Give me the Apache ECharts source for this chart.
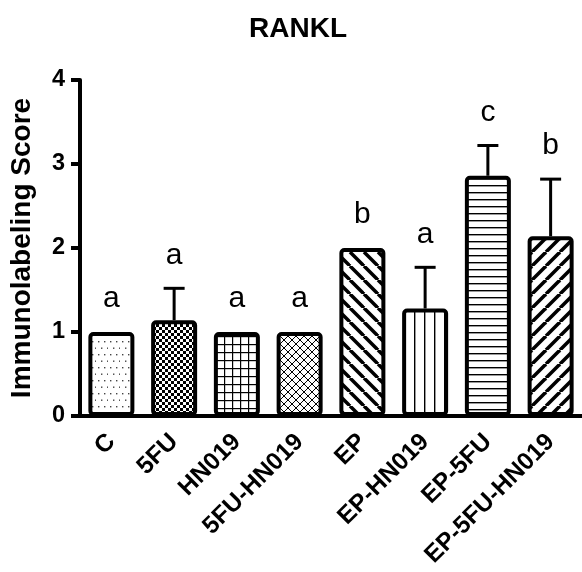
<!DOCTYPE html>
<html><head><meta charset="utf-8">
<script src="https://cdn.jsdelivr.net/npm/echarts@6/dist/echarts.min.js"></script>
<style>html,body{margin:0;padding:0;background:#fff}#c{width:582px;height:572px}</style>
</head><body><div id="c"></div>
<script>
const categories = ['C', '5FU', 'HN019', '5FU-HN019', 'EP', 'EP-HN019', 'EP-5FU', 'EP-5FU-HN019'];
const means = [1, 1.14, 1, 1, 2, 1.28, 2.86, 2.14];
const errors = [0, 0.38, 0, 0, 0, 0.49, 0.36, 0.68];
const letters = ['a', 'a', 'a', 'a', 'b', 'a', 'c', 'b'];
const patternTypes = ['dots', 'checker', 'grid', 'brick', 'back', 'vert', 'horiz', 'fwd'];

function makePattern(type) {
  const c = document.createElement('canvas');
  let w = 8, h = 8;
  if (type === 'dots') { w = 12; h = 13; }
  if (type === 'checker') { w = 6; h = 6; }
  if (type === 'grid') { w = 8; h = 8; }
  if (type === 'brick') { w = 8; h = 8; }
  if (type === 'back' || type === 'fwd') { w = 14; h = 14; }
  if (type === 'vert') { w = 10; h = 10; }
  if (type === 'horiz') { w = 10; h = 7; }
  c.width = w; c.height = h;
  const g = c.getContext('2d');
  g.fillStyle = '#fff'; g.fillRect(0, 0, w, h);
  g.fillStyle = '#000'; g.strokeStyle = '#000';
  if (type === 'dots') {
    g.fillStyle = '#444';
    [[2, 3], [8, 3], [5, 9.5], [11, 9.5]].forEach(p => { g.fillRect(p[0], p[1], 1.4, 1.4); });
  } else if (type === 'checker') {
    g.fillRect(0, 0, 3, 3); g.fillRect(3, 3, 3, 3);
  } else if (type === 'grid') {
    g.fillRect(0, 0, w, 1.2); g.fillRect(0, 0, 1.2, h);
  } else if (type === 'brick') {
    g.lineWidth = 1;
    for (let k = -1; k <= 1; k++) {
      g.beginPath(); g.moveTo(k * w, h); g.lineTo(k * w + w, 0); g.stroke();
    }
    g.beginPath(); g.moveTo(0, 0); g.lineTo(w / 2, h / 2); g.stroke();
    g.beginPath(); g.moveTo(w / 2, h / 2 + 0); g.lineTo(w, h); g.stroke();
  } else if (type === 'back') {
    g.lineWidth = 3.5;
    for (let k = -1; k <= 1; k++) {
      g.beginPath(); g.moveTo(k * w, 0); g.lineTo(k * w + w, h); g.stroke();
    }
  } else if (type === 'fwd') {
    g.lineWidth = 3.5;
    for (let k = -1; k <= 1; k++) {
      g.beginPath(); g.moveTo(k * w, h); g.lineTo(k * w + w, 0); g.stroke();
    }
  } else if (type === 'vert') {
    g.fillRect(4, 0, 1.4, h);
  } else if (type === 'horiz') {
    g.fillRect(0, 3, w, 1.4);
  }
  return { image: c, repeat: 'repeat' };
}

const barData = means.map((v, i) => ({
  value: v,
  itemStyle: { color: makePattern(patternTypes[i]) }
}));
const errData = means.map((v, i) => [i, v, v + errors[i]]);

const chart = echarts.init(document.getElementById('c'));
const FONT = 'Liberation Sans, Arial, sans-serif';
chart.setOption({
  animation: false,
  title: {
    text: 'RANKL', left: 293, top: 10, textAlign: 'center',
    textStyle: { fontFamily: FONT, fontWeight: 'bold', fontSize: 28, color: '#000' }
  },
  grid: { left: 77, right: 0, top: 80, bottom: 156, containLabel: false },
  xAxis: {
    type: 'category', data: categories,
    axisLine: { lineStyle: { color: '#000', width: 4 } },
    axisTick: { alignWithLabel: true, length: 9, lineStyle: { color: '#000', width: 4 } },
    axisLabel: { rotate: 45, margin: 22, interval: 0, fontFamily: FONT, fontWeight: 'bold', fontSize: 24.5, color: '#000' }
  },
  yAxis: {
    type: 'value', min: 0, max: 4, interval: 1,
    name: 'Immunolabeling Score', nameLocation: 'middle', nameGap: 44,
    nameTextStyle: { fontFamily: FONT, fontWeight: 'bold', fontSize: 28, color: '#000' },
    splitLine: { show: false },
    axisLine: { show: true, lineStyle: { color: '#000', width: 4 } },
    axisTick: { show: true, length: 9, lineStyle: { color: '#000', width: 4 } },
    axisLabel: { margin: 15, fontFamily: FONT, fontWeight: 'bold', fontSize: 23.5, color: '#000' }
  },
  series: [
    {
      type: 'bar', data: barData, barWidth: 46, z: 3,
      itemStyle: { borderColor: '#000', borderWidth: 4, borderRadius: 3 }
    },
    {
      type: 'custom', z: 2,
      data: errData,
      renderItem: function (params, api) {
        const i = api.value(0);
        const base = api.coord([i, api.value(1)]);
        const top = api.coord([i, api.value(2)]);
        const children = [];
        if (api.value(2) > api.value(1)) {
          children.push({ type: 'line', shape: { x1: base[0], y1: base[1], x2: top[0], y2: top[1] }, style: { stroke: '#000', lineWidth: 3 } });
          children.push({ type: 'line', shape: { x1: top[0] - 10.5, y1: top[1], x2: top[0] + 10.5, y2: top[1] }, style: { stroke: '#000', lineWidth: 3 } });
        }
        children.push({
          type: 'text', x: top[0], y: top[1] - 33,
          style: { text: letters[params.dataIndex], fontFamily: FONT, fontSize: 30, fill: '#000', align: 'center', verticalAlign: 'middle' }
        });
        return { type: 'group', children: children };
      }
    }
  ]
});
</script></body></html>
